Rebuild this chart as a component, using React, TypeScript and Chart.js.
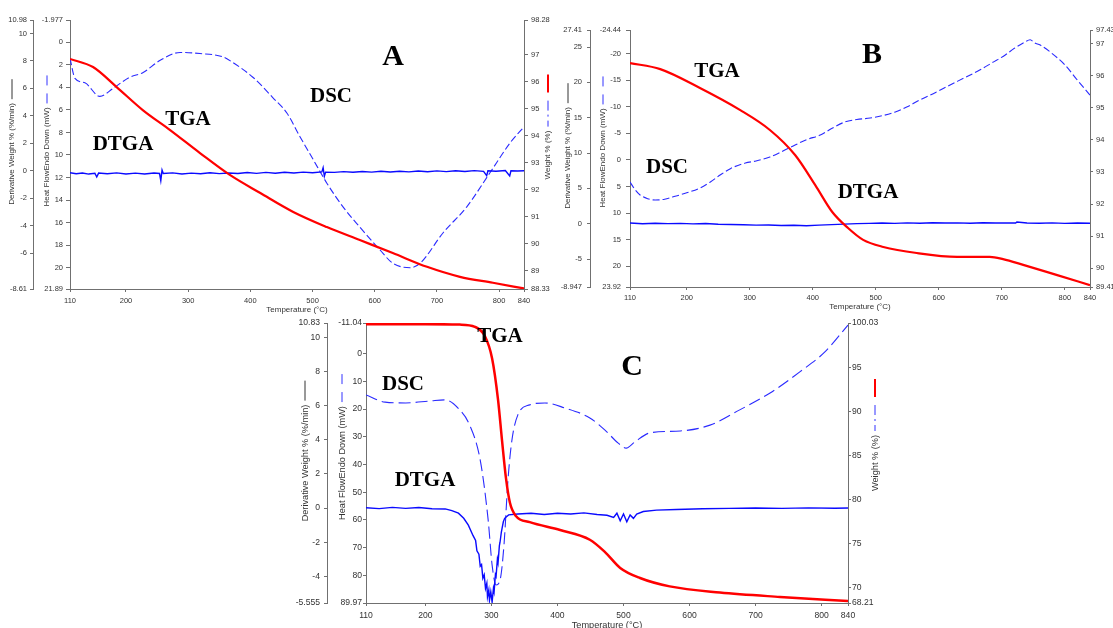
import React, { useEffect, useRef } from 'react';
import { Chart, registerables } from 'chart.js';

Chart.register(...registerables);

// ---------- shared ----------
const xTicks = [110, 200, 300, 400, 500, 600, 700, 800, 840];

// ---------- Panel A ----------
const aDerivTicks = [-8.61, -6, -4, -2, 0, 2, 4, 6, 8, 10, 10.98];
const aHeatTicks = [-1.977, 0, 2, 4, 6, 8, 10, 12, 14, 16, 18, 20, 21.89];
const aWeightTicks = [88.33, 89, 90, 91, 92, 93, 94, 95, 96, 97, 98.28];

const aTgaT = [110, 147, 185, 227, 271, 319, 367, 416, 469, 523, 576, 629, 684, 737, 790, 840];
const aTgaW = [96.84, 96.54, 95.8, 94.95, 94.21, 93.36, 92.55, 91.88, 91.18, 90.62, 90.14, 89.66, 89.15, 88.78, 88.56, 88.35];

const aDscT = [110, 118, 134, 158, 179, 206, 227, 255, 287, 319, 356, 372, 404, 436, 459, 480, 501, 523, 549, 576, 608, 629, 657, 673, 710, 748, 785, 818, 840];
const aDscV = [1.42, 3.2, 3.6, 4.8, 4.1, 3.1, 2.7, 1.6, 0.9, 1.0, 1.3, 1.8, 3.1, 4.9, 6.3, 8.4, 10.4, 12.5, 14.6, 16.4, 18.4, 19.6, 20.0, 19.6, 16.9, 14.6, 11.6, 8.9, 7.5];

const aDtgaT = [110, 120, 130, 140, 150, 153, 156, 170, 185, 200, 215, 230, 245, 254, 256, 258, 260, 275, 290, 305, 320, 335, 350, 365, 380, 395, 410, 425, 440, 455, 470, 485, 500, 515, 517, 519, 521, 535, 550, 565, 580, 595, 610, 625, 640, 655, 670, 685, 700, 715, 730, 745, 760, 775, 780, 782, 795, 810, 817, 819, 830, 840];
const aDtgaV = [-0.14, -0.22, -0.16, -0.24, -0.18, -0.45, -0.17, -0.22, -0.15, -0.23, -0.17, -0.24, -0.16, -0.2, -0.72, 0.05, -0.2, -0.15, -0.23, -0.17, -0.22, -0.14, -0.21, -0.16, -0.2, -0.13, -0.19, -0.12, -0.18, -0.11, -0.16, -0.1, -0.14, -0.08, 0.22, -0.4, -0.1, -0.12, -0.06, -0.11, -0.05, -0.1, -0.04, -0.09, -0.03, -0.08, -0.02, -0.07, -0.01, -0.06, 0.0, -0.05, 0.01, -0.04, -0.35, 0.0, -0.03, 0.02, -0.38, 0.0, -0.02, 0.0];

// ---------- Panel B ----------
const bDerivTicks = [-8.947, -5, 0, 5, 10, 15, 20, 25, 27.41];
const bHeatTicks = [-24.44, -20, -15, -10, -5, 0, 5, 10, 15, 20, 23.92];
const bWeightTicks = [89.41, 90, 91, 92, 93, 94, 95, 96, 97, 97.43];

const bTgaT = [110, 158, 221, 285, 332, 372, 404, 431, 456, 480, 512, 565, 629, 681, 702, 734, 788, 840];
const bTgaW = [96.4, 96.21, 95.62, 94.93, 94.31, 93.53, 92.59, 91.75, 91.25, 90.88, 90.66, 90.47, 90.35, 90.35, 90.28, 90.1, 89.78, 89.47];

const bDscT = [110, 118, 126, 138, 150, 165, 180, 200, 221, 237, 253, 270, 293, 310, 332, 350, 372, 390, 412, 430, 451, 470, 491, 510, 531, 550, 570, 595, 618, 640, 665, 685, 705, 720, 737, 745, 752, 761, 780, 800, 820, 840];
const bDscV = [4.16, 5.6, 6.6, 7.3, 7.55, 7.4, 6.9, 6.2, 5.3, 4.2, 2.85, 1.6, 0.6, 0.2, -0.54, -1.5, -2.8, -3.8, -4.68, -5.9, -7.13, -7.6, -7.88, -8.3, -9.0, -10.0, -11.27, -12.7, -14.1, -15.4, -16.9, -18.3, -19.7, -21.0, -22.2, -22.6, -22.0, -21.6, -20.0, -17.9, -15.0, -12.2];

const bDtgaT = [110, 130, 150, 170, 190, 210, 230, 250, 270, 290, 310, 330, 350, 370, 390, 410, 430, 450, 470, 490, 510, 530, 550, 570, 590, 610, 630, 650, 670, 690, 710, 722, 724, 740, 760, 780, 800, 820, 840];
const bDtgaV = [0.1, 0.0, 0.08, 0.02, 0.06, -0.02, 0.04, -0.06, -0.1, -0.15, -0.2, -0.18, -0.25, -0.22, -0.28, -0.2, -0.12, -0.05, 0.02, 0.06, 0.1, 0.06, 0.12, 0.08, 0.14, 0.1, 0.12, 0.08, 0.14, 0.1, 0.12, 0.1, 0.25, 0.1, 0.08, 0.12, 0.06, 0.1, 0.08];

// ---------- Panel C ----------
const cDerivTicks = [-5.555, -4, -2, 0, 2, 4, 6, 8, 10, 10.83];
const cHeatTicks = [-11.04, 0, 10, 20, 30, 40, 50, 60, 70, 80, 89.97];
const cWeightTicks = [68.21, 70, 75, 80, 85, 90, 95, 100.03];

const cTgaT = [110, 200, 252, 275, 290, 301, 310, 316, 322, 328, 337, 358, 404, 449, 472, 495, 525, 570, 646, 737, 840];
const cTgaW = [99.9, 99.9, 99.85, 99.6, 98.55, 96.0, 91.3, 86.7, 82.4, 79.6, 78.1, 77.4, 76.5, 75.4, 74.0, 72.2, 71.05, 70.1, 69.4, 68.9, 68.44];

const cDscT = [110, 139, 170, 207, 230, 252, 267, 283, 295, 301, 307, 313, 319, 325, 331, 340, 358, 381, 411, 449, 472, 492, 504, 517, 540, 586, 631, 676, 722, 767, 805, 840];
const cDscV = [14.9, 17.5, 17.8, 17.1, 16.7, 20.3, 25.8, 38.4, 60.0, 76.3, 83.5, 81.7, 69.0, 45.6, 31.2, 22.1, 18.5, 17.8, 19.6, 23.2, 27.6, 32.3, 34.1, 31.9, 28.6, 27.9, 25.8, 20.3, 14.2, 6.6, -0.6, -10.3];

const cDtgaT = [110, 130, 150, 170, 190, 210, 230, 240, 250, 258, 265, 272, 276, 278, 281, 283, 285, 287, 289, 291, 293, 294, 296, 297, 299, 301, 303, 304, 306, 307, 309, 310, 312, 313, 315, 316, 318, 320, 326, 340, 360, 380, 400, 420, 440, 460, 475, 485, 490, 495, 500, 505, 510, 515, 520, 530, 550, 580, 620, 660, 700, 740, 780, 820, 840];
const cDtgaV = [0.02, -0.03, 0.04, -0.02, 0.03, -0.04, -0.05, -0.15, -0.3, -0.6, -1.0, -1.6, -1.9, -2.5, -2.7, -3.4, -3.3, -4.1, -3.9, -4.7, -4.4, -5.2, -4.8, -5.4, -4.9, -5.5, -4.7, -4.9, -3.9, -4.0, -3.0, -3.2, -2.2, -2.0, -1.4, -1.2, -0.8, -0.6, -0.4, -0.35, -0.3, -0.38, -0.3, -0.35, -0.28, -0.38, -0.42, -0.55, -0.3, -0.75, -0.35, -0.8, -0.4, -0.6, -0.35, -0.2, -0.12, -0.08, -0.04, -0.02, 0.0, -0.02, 0.01, -0.01, 0.0];

// ---------- helpers ----------
const SANS = "'Liberation Sans', Arial, sans-serif";
const SERIF = "'Liberation Serif', 'Times New Roman', serif";
const AXIS_COLOR = '#707070';
const TEXT_COLOR = '#333333';

const pts = (t: number[], v: number[]) => t.map((x, i) => ({ x, y: v[i] }));

type Seg = { len: number; color: string; width: number; dash?: number[] };
type VTitle = { x: number; yc: number; text: string; segs: Seg[] };

type PanelCfg = {
  left: number; top: number; w: number; h: number;
  padTop: number; wDeriv: number; wHeat: number; wWeight: number; hX: number;
  tickFont: number; titleFont: number;
  deriv: { ticks: number[]; tl: number; pad: number };
  heat: { ticks: number[]; tl: number; pad: number };
  weight: { ticks: number[]; tl: number; pad: number };
  xPad: number;
  xTitleY: number;
  titles: VTitle[];
  labels: { text: string; x: number; y: number; size: number }[];
  tga: { x: number; y: number }[];
  dsc: { x: number; y: number }[];
  dtga: { x: number; y: number }[];
  dscDash: number[];
  tgaWidth: number;
};

const derivSeg: Seg[] = [{ len: 20, color: '#333', width: 1 }];
const heatSeg: Seg[] = [{ len: 30, color: '#3333ff', width: 1, dash: [10, 8] }];
const weightSeg: Seg[] = [
  { len: 26, color: '#3333ff', width: 1, dash: [6, 4, 2, 4, 10] },
  { len: 18, color: '#ff0000', width: 2 },
];

const fixScale = (w: number | null, h: number | null) => (s: any) => {
  if (w !== null) s.width = w;
  if (h !== null) s.height = h;
  s.paddingTop = 0; s.paddingBottom = 0; s.paddingLeft = 0; s.paddingRight = 0;
};

const setTicks = (vals: number[]) => (s: any) => {
  s.ticks = vals.map((v) => ({ value: v }));
};

function yAxis(position: 'left' | 'right', ax: { ticks: number[]; tl: number; pad: number }, width: number, weight: number, reverse: boolean, font: number) {
  return {
    type: 'linear',
    position,
    weight,
    reverse,
    min: ax.ticks[0],
    max: ax.ticks[ax.ticks.length - 1],
    afterBuildTicks: setTicks(ax.ticks),
    afterFit: fixScale(width, null),
    grid: { drawOnChartArea: false, drawTicks: true, tickLength: ax.tl, color: AXIS_COLOR },
    border: { display: true, color: AXIS_COLOR, width: 1 },
    ticks: {
      autoSkip: false,
      padding: ax.pad,
      color: TEXT_COLOR,
      font: { family: SANS, size: font },
      callback: (v: any) => String(v),
    },
    title: { display: false },
  };
}

function makeConfig(p: PanelCfg): any {
  const decor = {
    id: 'decor',
    afterDraw(chart: any) {
      const ctx = chart.ctx as CanvasRenderingContext2D;
      const area = chart.chartArea;
      ctx.save();
      for (const t of p.titles) {
        ctx.save();
        ctx.translate(t.x, t.yc);
        ctx.rotate(-Math.PI / 2);
        ctx.font = `${p.titleFont}px ${SANS}`;
        ctx.fillStyle = TEXT_COLOR;
        ctx.textAlign = 'center';
        ctx.textBaseline = 'middle';
        ctx.fillText(t.text, 0, 0);
        const w = ctx.measureText(t.text).width;
        let pos = w / 2 + 4;
        for (const s of t.segs) {
          ctx.beginPath();
          ctx.strokeStyle = s.color;
          ctx.lineWidth = s.width;
          ctx.setLineDash(s.dash || []);
          ctx.moveTo(pos, 0);
          ctx.lineTo(pos + s.len, 0);
          ctx.stroke();
          pos += s.len + 8;
        }
        ctx.restore();
      }
      ctx.font = `${p.titleFont}px ${SANS}`;
      ctx.fillStyle = TEXT_COLOR;
      ctx.textAlign = 'center';
      ctx.textBaseline = 'middle';
      ctx.fillText('Temperature (°C)', (area.left + area.right) / 2, p.xTitleY);
      for (const l of p.labels) {
        ctx.font = `bold ${l.size}px ${SERIF}`;
        ctx.fillStyle = '#000';
        ctx.fillText(l.text, l.x, l.y);
      }
      ctx.restore();
    },
  };

  return {
    type: 'scatter',
    data: {
      datasets: [
        { label: 'TGA', data: p.tga, yAxisID: 'weight', showLine: true, pointRadius: 0, borderColor: '#ff0000', borderWidth: p.tgaWidth, cubicInterpolationMode: 'monotone' },
        { label: 'DTGA', data: p.dtga, yAxisID: 'deriv', showLine: true, pointRadius: 0, borderColor: '#0a0aff', borderWidth: 1.4, tension: 0 },
        { label: 'DSC', data: p.dsc, yAxisID: 'heat', showLine: true, pointRadius: 0, borderColor: '#2a2aff', borderWidth: 1.1, borderDash: p.dscDash, cubicInterpolationMode: 'monotone' },
      ],
    },
    options: {
      responsive: false,
      animation: false,
      events: [],
      layout: { padding: { left: 0, right: 0, top: p.padTop, bottom: 0 } },
      plugins: { legend: { display: false }, tooltip: { enabled: false }, title: { display: false } },
      scales: {
        x: {
          type: 'linear',
          position: 'bottom',
          min: 110,
          max: 840,
          afterBuildTicks: setTicks(xTicks),
          afterFit: fixScale(null, p.hX),
          grid: { drawOnChartArea: false, drawTicks: true, tickLength: 3, color: AXIS_COLOR },
          border: { display: true, color: AXIS_COLOR, width: 1 },
          ticks: { autoSkip: false, maxRotation: 0, padding: p.xPad, color: TEXT_COLOR, font: { family: SANS, size: p.tickFont }, callback: (v: any) => String(v) },
        },
        deriv: yAxis('left', p.deriv, p.wDeriv, 2, false, p.tickFont),
        heat: yAxis('left', p.heat, p.wHeat, 1, true, p.tickFont),
        weight: yAxis('right', p.weight, p.wWeight, 1, false, p.tickFont),
      },
    },
    plugins: [decor],
  };
}

const panels: PanelCfg[] = [
  {
    left: 0, top: 0, w: 560, h: 320,
    padTop: 20, wDeriv: 33, wHeat: 37, wWeight: 36, hX: 31,
    tickFont: 7.5, titleFont: 8,
    deriv: { ticks: aDerivTicks, tl: 3, pad: 3 },
    heat: { ticks: aHeatTicks, tl: 4, pad: 3 },
    weight: { ticks: aWeightTicks, tl: 4, pad: 3 },
    xPad: 4, xTitleY: 310,
    titles: [
      { x: 12, yc: 154, text: 'Derivative Weight % (%/min)', segs: derivSeg },
      { x: 47, yc: 157, text: 'Heat FlowEndo Down (mW)', segs: heatSeg },
      { x: 548, yc: 155, text: 'Weight % (%)', segs: weightSeg },
    ],
    labels: [
      { text: 'A', x: 393, y: 57, size: 30 },
      { text: 'DSC', x: 331, y: 97, size: 21 },
      { text: 'TGA', x: 188, y: 120, size: 21 },
      { text: 'DTGA', x: 123, y: 145, size: 21 },
    ],
    tga: pts(aTgaT, aTgaW), dsc: pts(aDscT, aDscV), dtga: pts(aDtgaT, aDtgaV),
    dscDash: [7, 3], tgaWidth: 2.2,
  },
  {
    left: 545, top: 0, w: 580, h: 320,
    padTop: 30, wDeriv: 45, wHeat: 40, wWeight: 35, hX: 33,
    tickFont: 7.5, titleFont: 8,
    deriv: { ticks: bDerivTicks, tl: 3, pad: 5 },
    heat: { ticks: bHeatTicks, tl: 4, pad: 5 },
    weight: { ticks: bWeightTicks, tl: 3, pad: 3 },
    xPad: 3, xTitleY: 307,
    titles: [
      { x: 23, yc: 158, text: 'Derivative Weight % (%/min)', segs: derivSeg },
      { x: 58, yc: 158, text: 'Heat FlowEndo Down (mW)', segs: heatSeg },
      { x: 571, yc: 158, text: 'Weight % (%)', segs: weightSeg },
    ],
    labels: [
      { text: 'B', x: 327, y: 55, size: 30 },
      { text: 'TGA', x: 172, y: 72, size: 21 },
      { text: 'DSC', x: 122, y: 168, size: 21 },
      { text: 'DTGA', x: 323, y: 193, size: 21 },
    ],
    tga: pts(bTgaT, bTgaW), dsc: pts(bDscT, bDscV), dtga: pts(bDtgaT, bDtgaV),
    dscDash: [7, 3], tgaWidth: 2.2,
  },
  {
    left: 270, top: 313, w: 618, h: 315,
    padTop: 10, wDeriv: 57, wHeat: 39, wWeight: 40, hX: 25,
    tickFont: 8.6, titleFont: 9.2,
    deriv: { ticks: cDerivTicks, tl: 3, pad: 4 },
    heat: { ticks: cHeatTicks, tl: 3, pad: 1 },
    weight: { ticks: cWeightTicks, tl: 3, pad: 1 },
    xPad: 4, xTitleY: 312,
    titles: [
      { x: 35, yc: 150, text: 'Derivative Weight % (%/min)', segs: derivSeg },
      { x: 72, yc: 150, text: 'Heat FlowEndo Down (mW)', segs: heatSeg },
      { x: 605, yc: 150, text: 'Weight % (%)', segs: weightSeg },
    ],
    labels: [
      { text: 'C', x: 362, y: 54, size: 30 },
      { text: 'TGA', x: 230, y: 24, size: 21 },
      { text: 'DSC', x: 133, y: 72, size: 21 },
      { text: 'DTGA', x: 155, y: 168, size: 21 },
    ],
    tga: pts(cTgaT, cTgaW), dsc: pts(cDscT, cDscV), dtga: pts(cDtgaT, cDtgaV),
    dscDash: [12, 5], tgaWidth: 2.5,
  },
];

function Panel({ cfg }: { cfg: PanelCfg }) {
  const ref = useRef<HTMLCanvasElement | null>(null);
  useEffect(() => {
    if (!ref.current) return;
    const chart = new Chart(ref.current, makeConfig(cfg));
    return () => chart.destroy();
  }, [cfg]);
  return (
    <canvas
      ref={ref}
      width={cfg.w}
      height={cfg.h}
      style={{ position: 'absolute', left: cfg.left, top: cfg.top, width: cfg.w, height: cfg.h }}
    />
  );
}

export default function App() {
  return (
    <div style={{ position: 'fixed', left: 0, top: 0, width: 1113, height: 628, overflow: 'hidden', background: '#ffffff' }}>
      {panels.map((p, i) => (
        <Panel key={i} cfg={p} />
      ))}
    </div>
  );
}
